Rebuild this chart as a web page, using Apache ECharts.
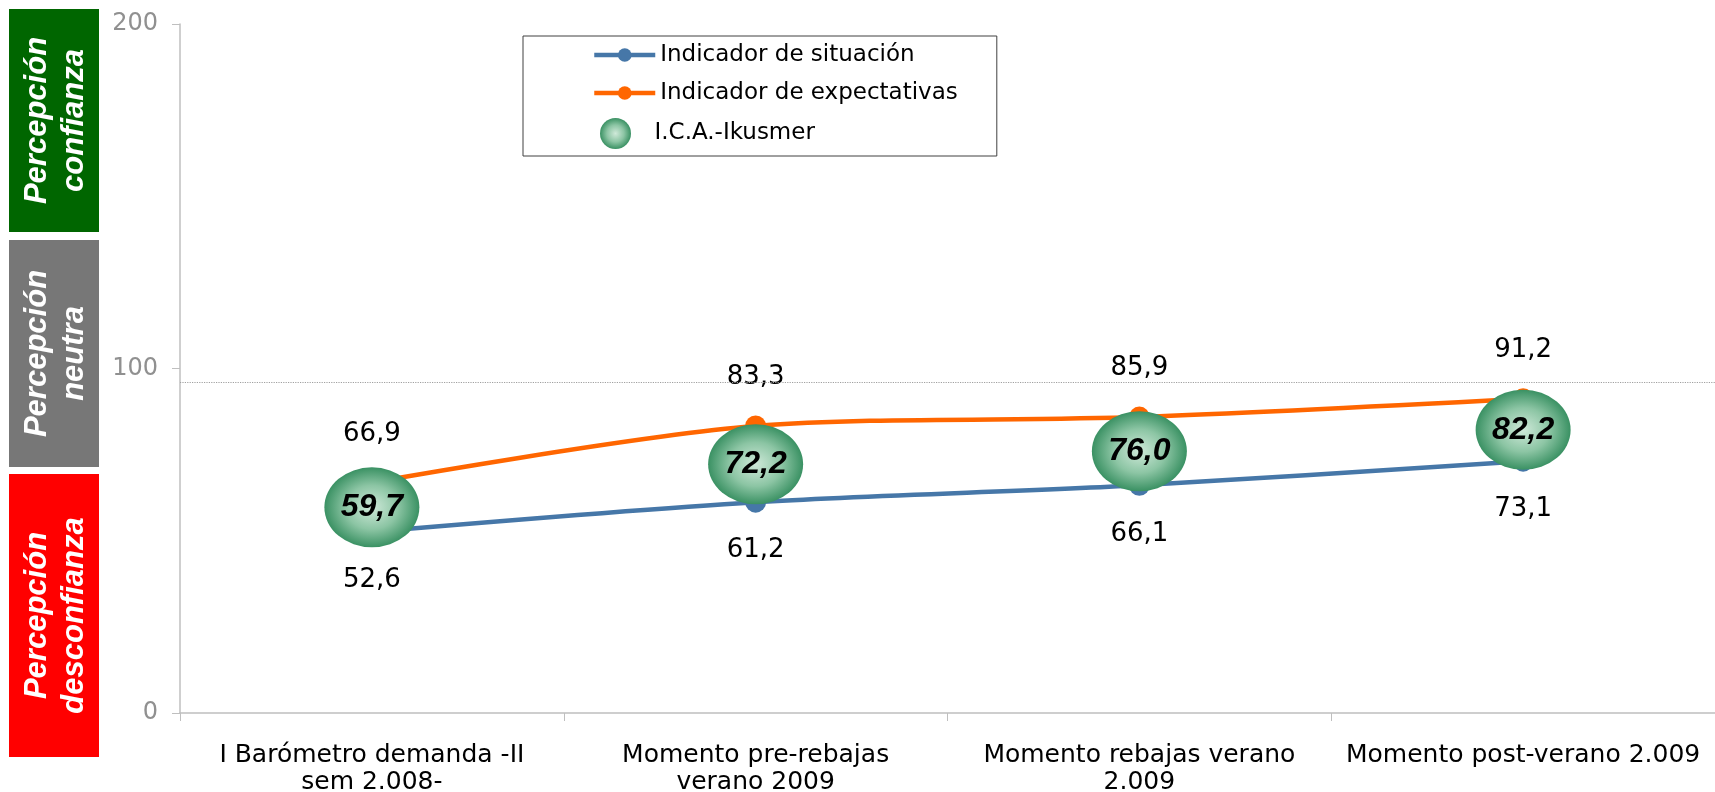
<!DOCTYPE html>
<html>
<head>
<meta charset="utf-8">
<script src="https://cdn.jsdelivr.net/npm/echarts@6/dist/echarts.min.js"></script>
<style>
  html, body { margin: 0; padding: 0; background: #fff; }
  #chart { width: 1715px; height: 792px; }
</style>
</head>
<body>
<div id="chart"></div>
<script>
const categories = [
  'I Barómetro demanda -II\nsem 2.008-',
  'Momento pre-rebajas\nverano 2009',
  'Momento rebajas verano\n2.009',
  'Momento post-verano 2.009'
];
const situacion = [52.6, 61.2, 66.1, 73.1];
const expectativas = [66.9, 83.3, 85.9, 91.2];
const icaIkusmer = [59.7, 72.2, 76.0, 82.2];
const yMin = 0, yMax = 200, yStep = 100;
const neutralLine = 96;
const zones = [
  { lines: 'Percepción\nconfianza', color: '#006600', top: 9, bottom: 232 },
  { lines: 'Percepción\nneutra', color: '#777777', top: 240, bottom: 467 },
  { lines: 'Percepción\ndesconfianza', color: '#ff0000', top: 474, bottom: 757 }
];

const fmt = v => v.toFixed(1).replace('.', ',');
const baseFont = 'DejaVu Sans';

const chart = echarts.init(document.getElementById('chart'), null, { renderer: 'canvas' });

const zoneGraphics = zones.map(z => ({
  type: 'group',
  children: [
    {
      type: 'rect',
      shape: { x: 9, y: z.top, width: 90, height: z.bottom - z.top },
      style: { fill: z.color }
    },
    {
      type: 'text',
      x: 56,
      y: (z.top + z.bottom) / 2,
      rotation: Math.PI / 2,
      style: {
        text: z.lines,
        fill: '#fff',
        font: 'italic bold 31px "Liberation Sans", Arial, sans-serif',
        lineHeight: 37,
        align: 'center',
        verticalAlign: 'middle'
      }
    }
  ]
}));

chart.setOption({
  animation: false,
  grid: { left: 180, right: 0, top: 24, bottom: 79, outerBoundsMode: 'none', containLabel: false },
  graphic: zoneGraphics,
  legend: [
    {
      data: ['Indicador de situación', 'Indicador de expectativas'],
      orient: 'vertical',
      left: 523,
      top: 36,
      padding: [6, 39, 50, 69],
      itemWidth: 61,
      itemHeight: 17,
      itemGap: 12,
      borderColor: '#404040',
      borderWidth: 1,
      lineStyle: { width: 4.5 },
      textStyle: { fontFamily: baseFont, fontSize: 23, color: '#000', lineHeight: 26 }
    },
    {
      data: ['I.C.A.-Ikusmer'],
      orient: 'vertical',
      left: 600,
      top: 118,
      padding: 0,
      itemWidth: 40,
      itemHeight: 31,
      icon: 'circle',
      symbolKeepAspect: false,
      itemStyle: { opacity: 1 },
      textStyle: { fontFamily: baseFont, fontSize: 23, color: '#000', padding: [0, 0, 0, 14] }
    }
  ],
  xAxis: {
    type: 'category',
    data: categories,
    boundaryGap: true,
    axisLine: { lineStyle: { color: '#bfbfbf', width: 1.5 } },
    axisTick: { show: true, length: 8, lineStyle: { color: '#bfbfbf' } },
    axisLabel: {
      interval: 0,
      margin: 29,
      color: '#000',
      fontFamily: baseFont,
      fontSize: 25,
      lineHeight: 27
    }
  },
  yAxis: {
    type: 'value',
    min: yMin,
    max: yMax,
    interval: yStep,
    splitLine: { show: false },
    axisLine: { show: true, lineStyle: { color: '#bfbfbf', width: 1.5 } },
    axisTick: { show: true, length: 8, lineStyle: { color: '#bfbfbf' } },
    axisLabel: { color: '#909090', fontFamily: baseFont, fontSize: 24, margin: 22 }
  },
  series: [
    {
      name: 'Indicador de situación',
      type: 'line',
      data: situacion,
      smooth: 0.3,
      symbol: 'circle',
      symbolSize: 21,
      color: '#4677a8',
      lineStyle: { width: 4.5, color: '#4677a8' },
      itemStyle: { color: '#4677a8' },
      label: {
        show: true,
        position: 'bottom',
        distance: 25,
        formatter: p => fmt(p.value),
        color: '#000',
        fontFamily: baseFont,
        fontSize: 26
      },
      z: 2
    },
    {
      name: 'Indicador de expectativas',
      type: 'line',
      data: expectativas,
      smooth: 0.3,
      symbol: 'circle',
      symbolSize: 21,
      color: '#ff6600',
      lineStyle: { width: 4.5, color: '#ff6600' },
      itemStyle: { color: '#ff6600' },
      label: {
        show: true,
        position: 'top',
        distance: 25,
        formatter: p => fmt(p.value),
        color: '#000',
        fontFamily: baseFont,
        fontSize: 26
      },
      markLine: {
        silent: true,
        symbol: 'none',
        label: { show: false },
        lineStyle: { type: 'dotted', color: '#a0a0a0', width: 1.2 },
        data: [{ yAxis: neutralLine }]
      },
      z: 2
    },
    {
      name: 'I.C.A.-Ikusmer',
      type: 'scatter',
      data: icaIkusmer,
      symbol: 'circle',
      symbolSize: [95, 80],
      itemStyle: {
        opacity: 1,
        color: new echarts.graphic.RadialGradient(0.5, 0.5, 0.5, [
          { offset: 0, color: '#cfe9d9' },
          { offset: 0.55, color: '#8cc5a4' },
          { offset: 1, color: '#3a9163' }
        ])
      },
      label: {
        show: true,
        position: 'inside',
        formatter: p => fmt(p.value),
        color: '#000',
        fontFamily: 'Liberation Sans',
        fontStyle: 'italic',
        fontWeight: 'bold',
        fontSize: 32
      },
      z: 5
    }
  ]
});
</script>
</body>
</html>
